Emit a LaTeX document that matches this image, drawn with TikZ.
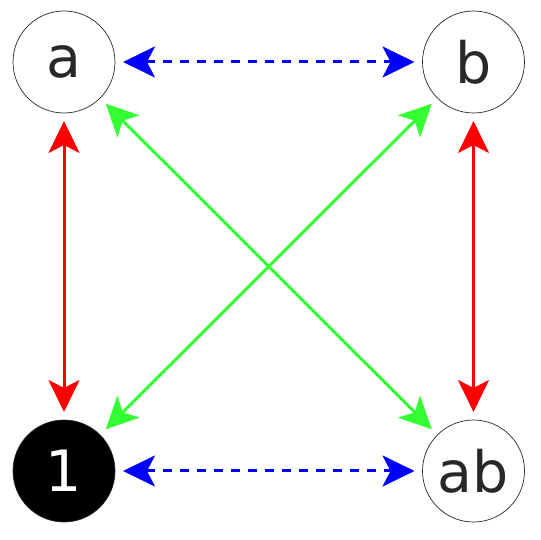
\documentclass[tikz,border=0pt]{standalone}
\usepackage{fontspec}
\setmainfont{DejaVu Sans}
\usetikzlibrary{arrows.meta}
\definecolor{lgreen}{RGB}{51,255,51}
\definecolor{txt}{RGB}{40,40,40}
\begin{document}
\begin{tikzpicture}[x=1pt,y=1pt,
  vert/.style={circle, draw=txt, line width=0.7pt, minimum size=102pt, inner sep=0pt, outer sep=8pt, font=\fontsize{57}{60}\selectfont, text=txt},
  link/.style={line width=3pt, {Stealth[length=32pt,width=31pt,inset=8pt]}-{Stealth[length=32pt,width=31pt,inset=8pt]}},
  dlink/.style={link, blue, dash pattern=on 9pt off 8pt},
  rlink/.style={link, red},
  glink/.style={link, lgreen}]
\useasboundingbox (0,0) rectangle (540,540);
\node[vert] (a) at (64,478) {a};
\node[vert] (b) at (473.5,478) {b};
\node[vert, fill=black, text=white] (one) at (64,69) {1};
\node[vert] (ab) at (473.5,69) {ab};
\draw[dlink] (a) -- (b);
\draw[dlink] (one) -- (ab);
\draw[rlink] (a) -- (one);
\draw[rlink] (b) -- (ab);
\draw[glink] (a) -- (ab);
\draw[glink] (b) -- (one);
\end{tikzpicture}
\end{document}
